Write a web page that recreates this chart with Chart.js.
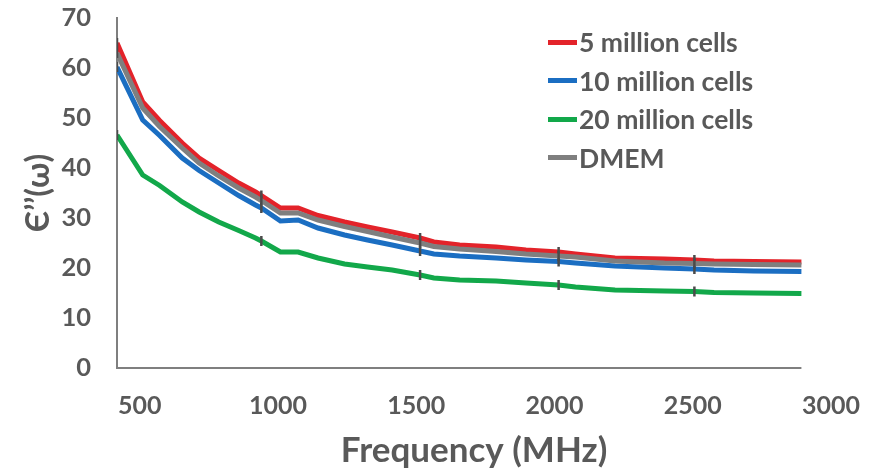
<!DOCTYPE html>
<html>
<head>
<meta charset="utf-8">
<script src="https://cdn.jsdelivr.net/npm/chart.js@4/dist/chart.umd.min.js"></script>
<style>
  html, body { margin: 0; padding: 0; background: #fff; }
  #wrap { position: relative; width: 883px; height: 473px; }
  #legend { position: absolute; left: 548px; top: 23px; font-family: Lato, sans-serif; font-weight: bold; font-size: 26.5px; color: #595959; }
  #legend div { height: 38.5px; display: flex; align-items: center; }
  #legend span.sw { display: inline-block; width: 29px; height: 5px; margin-right: 2px; }
</style>
</head>
<body>
<div id="wrap">
  <canvas id="chart" width="883" height="473"></canvas>
  <div id="legend"></div>
</div>
<script>
// frequency (MHz)
const frequency = [418, 511, 572, 654, 715, 786, 858, 919, 940, 1009, 1073, 1145, 1241, 1324, 1413, 1514, 1564, 1657, 1789, 1897, 2015, 2076, 2219, 2398, 2506, 2577, 2721, 2893];

const seriesNames = ['5 million cells', '10 million cells', '20 million cells', 'DMEM'];
const seriesColors = ['#e3232a', '#1b6ec2', '#12a84a', '#7f7f7f'];

const cells5 = [65, 53.2, 49.5, 45, 42, 39.5, 37, 35.2, 34.5, 32, 32, 30.5, 29.2, 28.2, 27.2, 26, 25.2, 24.6, 24.2, 23.6, 23.2, 22.8, 22, 21.8, 21.6, 21.4, 21.3, 21.2];
const cells10 = [60.2, 49.6, 46.5, 42, 39.5, 37, 34.5, 32.6, 32, 29.4, 29.6, 28, 26.6, 25.6, 24.6, 23.4, 22.8, 22.4, 22, 21.6, 21.3, 21, 20.4, 20, 19.8, 19.6, 19.4, 19.3];
const cells20 = [46.6, 38.6, 36.5, 33.2, 31.2, 29.2, 27.5, 26, 25.4, 23.2, 23.2, 22, 20.8, 20.2, 19.6, 18.6, 18, 17.6, 17.4, 17, 16.6, 16.2, 15.6, 15.4, 15.3, 15.1, 15, 14.9];
const dmem = [63, 52, 48.3, 44, 41, 38.4, 36, 34.2, 33.5, 31, 31, 29.6, 28.3, 27.3, 26.2, 25, 24.3, 23.8, 23.3, 22.8, 22.4, 22.2, 21.4, 21, 20.9, 20.8, 20.7, 20.6];

// points that carry a small error bar
const errorBarIdx = [0, 8, 15, 20, 24];

const xTicks = [500, 1000, 1500, 2000, 2500, 3000];
const yTicks = [0, 10, 20, 30, 40, 50, 60, 70];

const allSeries = [cells5, cells10, cells20, dmem];
const drawOrder = [3, 2, 1, 0];

const datasets = allSeries.map((vals, i) => ({
    label: seriesNames[i],
    data: vals.map((v, j) => ({ x: frequency[j], y: v })),
    borderColor: seriesColors[i],
    borderWidth: 5,
    order: drawOrder[i],
    pointStyle: 'line',
    rotation: 90,
    pointRadius: ctx => errorBarIdx.includes(ctx.dataIndex) ? 5 : 0,
    pointBorderColor: '#4a4a4a',
    pointBorderWidth: 2.5,
    tension: 0
}));

const axisLine = {
    id: 'axisLine',
    afterDraw(chart) {
        const x = chart.scales.x;
        const ctx = chart.ctx;
        ctx.save();
        ctx.strokeStyle = '#7f7f7f';
        ctx.lineWidth = 2;
        ctx.beginPath();
        ctx.moveTo(x.getPixelForValue(x.min), chart.chartArea.bottom);
        ctx.lineTo(x.getPixelForValue(frequency[frequency.length - 1]), chart.chartArea.bottom);
        ctx.stroke();
        ctx.restore();
    }
};

const gray = '#595959';
const chart = new Chart(document.getElementById('chart'), {
    type: 'line',
    data: { datasets: datasets },
    options: {
        responsive: false,
        animation: false,
        layout: { padding: { top: 18, right: 45, left: 0, bottom: 0 } },
        plugins: { legend: { display: false }, tooltip: { enabled: false } },
        scales: {
            x: {
                type: 'linear',
                min: 418,
                max: 3000,
                afterBuildTicks: s => { s.ticks = xTicks.map(v => ({ value: v })); },
                afterFit: s => { s.height = 105; },
                grid: { display: false, drawTicks: false },
                border: { display: false },
                ticks: { padding: 23, color: gray, font: { family: 'Lato', size: 25, weight: 'bold' }, maxRotation: 0, callback: v => String(v) },
                title: { display: true, text: 'Frequency (MHz)', color: gray, font: { family: 'Lato', size: 35, weight: 'bold' }, padding: { top: 4, bottom: 1 } }
            },
            y: {
                min: 0,
                max: 70,
                afterBuildTicks: s => { s.ticks = yTicks.map(v => ({ value: v })); },
                afterFit: s => { s.width = 117; s.paddingTop = 0; s.paddingBottom = 0; },
                grid: { display: false, drawTicks: false },
                border: { display: true, color: '#7f7f7f', width: 2 },
                ticks: { padding: 26, color: gray, font: { family: 'Lato', size: 25.5, weight: 'bold' }, callback: v => String(v) },
                title: { display: true, text: 'Є’’(ω)', color: gray, font: { family: 'Lato', size: 32, weight: 'bold' }, padding: { top: 19, bottom: 0 } }
            }
        }
    },
    plugins: [axisLine]
});

// html legend built from the datasets
const legend = document.getElementById('legend');
chart.data.datasets.forEach(ds => {
    const row = document.createElement('div');
    row.innerHTML = '<span class="sw" style="background:' + ds.borderColor + '"></span>' + ds.label;
    legend.appendChild(row);
});
</script>
</body>
</html>
